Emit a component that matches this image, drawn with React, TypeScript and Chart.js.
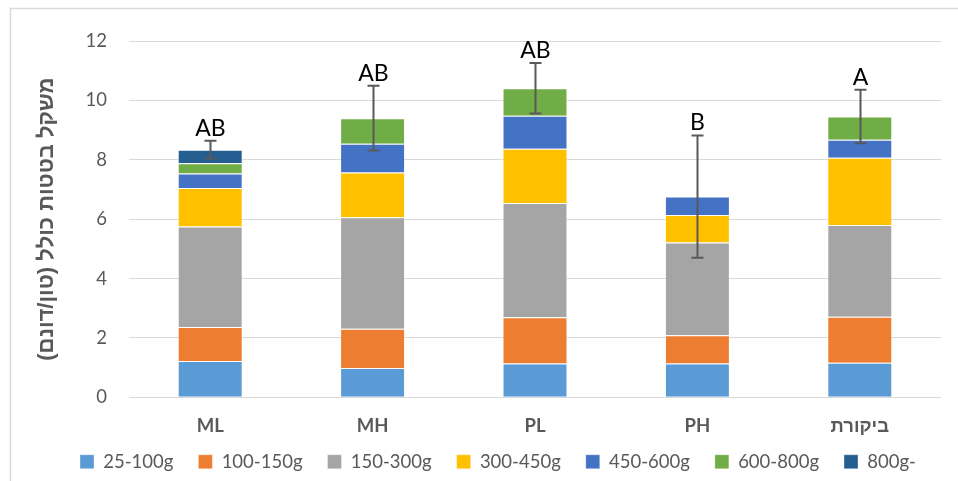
import { useEffect, useRef } from 'react';
import { Chart, registerables } from 'chart.js';

Chart.register(...registerables);

const categories = ['ML', 'MH', 'PL', 'PH', 'ביקורת'];
const seriesNames = ['25-100g', '100-150g', '150-300g', '300-450g', '450-600g', '600-800g', '800g-'];
const s25_100 = [1.22, 0.99, 1.14, 1.14, 1.16];
const s100_150 = [1.15, 1.32, 1.56, 0.95, 1.55];
const s150_300 = [3.38, 3.75, 3.84, 3.12, 3.09];
const s300_450 = [1.3, 1.51, 1.83, 0.93, 2.27];
const s450_600 = [0.49, 0.97, 1.11, 0.62, 0.6];
const s600_800 = [0.34, 0.86, 0.93, 0, 0.79];
const s800 = [0.46, 0, 0, 0, 0];
const errors = [0.3, 1.09, 0.85, 2.06, 0.9];
const letters = ['AB', 'AB', 'AB', 'B', 'A'];
const yMin = 0;
const yMax = 12;
const yStep = 2;
const yTitle = 'משקל בטטות כולל (טון/דונם)\u200F';

const allSeries = [s25_100, s100_150, s150_300, s300_450, s450_600, s600_800, s800];
const colors = ['#5B9BD5', '#ED7D31', '#A5A5A5', '#FFC000', '#4472C4', '#70AD47', '#255E91'];

const FONT = "Lato, 'Liberation Sans', sans-serif";
const HEB_FONT = "'Liberation Sans', 'DejaVu Sans', sans-serif";
const GRAY = '#595959';
const SHIFT = 20;

const framePlugin = {
  id: 'frame',
  beforeDraw(chart: any) {
    const { ctx, width, height } = chart;
    ctx.save();
    ctx.fillStyle = '#ffffff';
    ctx.fillRect(0, 0, width, height);
    ctx.strokeStyle = '#D9D9D9';
    ctx.lineWidth = 1.5;
    ctx.beginPath();
    ctx.moveTo(10.5, height + 5);
    ctx.lineTo(10.5, 8.5);
    ctx.lineTo(width + 5, 8.5);
    ctx.stroke();
    ctx.restore();
  },
};

const legendPlacePlugin = {
  id: 'legendPlace',
  afterLayout(chart: any) {
    const lg = chart.legend;
    if (!lg) return;
    const pad = lg.options.labels.padding;
    const w = lg.right - lg.left;
    lg.left = 80 - pad;
    lg.right = lg.left + w;
    lg.top -= SHIFT;
    lg.bottom -= SHIFT;
  },
};

const errorPlugin = {
  id: 'errorBars',
  afterDatasetsDraw(chart: any) {
    const { ctx } = chart;
    const x = chart.scales.x;
    const y = chart.scales.y;
    ctx.save();
    categories.forEach((_, i) => {
      const total = allSeries.reduce((s, arr) => s + (arr[i] || 0), 0);
      const cx = Math.round(x.getPixelForValue(i)) + 0.5;
      const yTop = y.getPixelForValue(total + errors[i]);
      const yBot = y.getPixelForValue(total - errors[i]);
      ctx.strokeStyle = GRAY;
      ctx.lineWidth = 2;
      ctx.beginPath();
      ctx.moveTo(cx, yTop);
      ctx.lineTo(cx, yBot);
      ctx.moveTo(cx - 6, yTop);
      ctx.lineTo(cx + 6, yTop);
      ctx.moveTo(cx - 6, yBot);
      ctx.lineTo(cx + 6, yBot);
      ctx.stroke();
      ctx.fillStyle = '#000000';
      ctx.font = `23px ${FONT}`;
      ctx.textAlign = 'center';
      ctx.textBaseline = 'alphabetic';
      ctx.fillText(letters[i], cx, yTop - 5);
    });
    ctx.restore();
  },
};

export default function App() {
  const ref = useRef<HTMLCanvasElement | null>(null);

  useEffect(() => {
    if (!ref.current) return;
    const chart = new Chart(ref.current, {
      type: 'bar',
      data: {
        labels: categories,
        datasets: allSeries.map((arr, k) => ({
          label: seriesNames[k],
          data: arr,
          backgroundColor: colors[k],
          borderColor: 'rgba(255,255,255,0.35)',
          borderWidth: 1,
          barPercentage: 0.4,
          categoryPercentage: 1,
        })),
      },
      options: {
        animation: false,
        responsive: true,
        maintainAspectRatio: false,
        layout: { padding: { left: 20, right: 17, top: 41, bottom: -SHIFT } },
        plugins: {
          tooltip: { enabled: false },
          legend: {
            position: 'bottom',
            align: 'start',
            labels: {
              boxWidth: 14,
              boxHeight: 14,
              padding: 25,
              color: GRAY,
              font: { family: FONT, size: 18.5 },
            },
          },
        },
        scales: {
          x: {
            stacked: true,
            grid: { display: false },
            border: { display: false },
            ticks: {
              color: GRAY,
              padding: 10,
              autoSkip: false,
              font: { family: FONT, size: 18.5, weight: 'bold' },
            },
          },
          y: {
            stacked: true,
            min: yMin,
            max: yMax,
            ticks: {
              stepSize: yStep,
              color: GRAY,
              padding: 22,
              font: { family: FONT, size: 18.5 },
            },
            grid: { color: '#D9D9D9', lineWidth: 1, drawTicks: false },
            border: { display: false },
            title: {
              display: true,
              text: yTitle,
              color: GRAY,
              padding: { top: 14, bottom: 0 },
              font: { family: HEB_FONT, size: 22, weight: 'bold' },
            },
            afterFit(scale: any) {
              scale.width = 109;
            },
          },
        },
      },
      plugins: [framePlugin, legendPlacePlugin, errorPlugin],
    });
    return () => chart.destroy();
  }, []);

  return (
    <div style={{ position: 'fixed', left: 0, top: 0, width: 958, height: 481, background: '#fff' }}>
      <canvas ref={ref} />
    </div>
  );
}
